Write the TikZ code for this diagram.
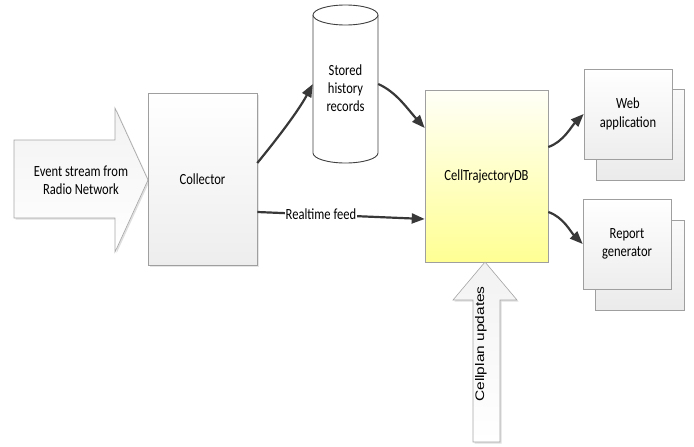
\documentclass[tikz,border=0pt]{standalone}
\usepackage{fontspec}
\setmainfont{Carlito}[FakeStretch=0.81]
\newfontfamily\arialish{Liberation Sans}
\usetikzlibrary{arrows.meta,shadows}

\begin{document}
\begin{tikzpicture}[x=1pt,y=-1pt,
  font=\fontsize{15.5}{18.3}\selectfont,
  box/.style={draw=gray!75, line width=0.6pt, rectangle, align=center, inner sep=0pt},
  graybox/.style={box, top color=white, bottom color=gray!14},
  backbox/.style={box, top color=gray!4, bottom color=gray!16},
  fatarrow/.style={draw=gray!70, line width=0.6pt, top color=gray!10, bottom color=white,
    drop shadow={shadow xshift=1.5pt, shadow yshift=-1.5pt, opacity=0.25}},
  flow/.style={draw=black!78, line width=2.2pt, -{Triangle[length=13pt,width=10pt]}},
  lbl/.style={align=center, inner sep=0pt}
]
\useasboundingbox (0,0) rectangle (694,447);

% incoming event stream arrow
\path[fatarrow] (14,140) -- (115,140) -- (115,108) -- (148,180) -- (115,252)
  -- (115,218) -- (14,218) -- cycle;
\node[lbl] (evt) at (81,180) {Event stream from\\Radio Network};

% collector
\node[graybox, minimum width=109pt, minimum height=172pt,
  drop shadow={shadow xshift=1.5pt, shadow yshift=-1.5pt, opacity=0.2}] (coll) at (202.5,179) {Collector};

% history store (cylinder)
\node[minimum width=65pt, minimum height=158pt, inner sep=0pt] (cyl) at (345.5,84) {};
\draw[draw=black!75, line width=0.9pt, fill=white]
  (313,15) -- (313,153) arc[start angle=180, end angle=0, x radius=32.5, y radius=10] -- (378,15);
\draw[draw=black!75, line width=0.9pt, fill=white] (345.5,15) ellipse [x radius=32.5, y radius=10];
\node[lbl] (cyltext) at (345.5,88) {Stored\\history\\records};

% database
\node[box, top color=yellow!3, bottom color=yellow!42, minimum width=123pt, minimum height=172pt]
  (ctdb) at (486.5,176) {CellTrajectoryDB};

% consumers (stacked boxes)
\node[backbox, minimum width=88pt, minimum height=91pt] (webback) at (640,134.5) {};
\node[graybox, minimum width=88pt, minimum height=90pt] (web) at (628,114) {Web\\application};
\node[backbox, minimum width=89pt, minimum height=90pt] (repback) at (639.5,265) {};
\node[graybox, minimum width=88pt, minimum height=90pt] (rep) at (627,244) {Report\\generator};

% cellplan update arrow
\path[fatarrow] (485,262) -- (517,300) -- (500,300) -- (500,442) -- (473,442) -- (473,300)
  -- (453,300) -- cycle;
\node[lbl, rotate=90] (cpu) at (481,344) {\arialish\scalebox{1}[0.8]{Cellplan updates}};

% data flows
\draw[flow] ([yshift=16pt]coll.east) .. controls +(18,-22) and +(-15,28) .. (cyl.west);
\draw[flow] (cyl.east) .. controls +(18,8) and +(-18,-20) .. ([yshift=48pt]ctdb.west);
\draw[flow] ([yshift=-33pt]coll.east) -- node[pos=0.38, fill=white, inner sep=1pt] (rt) {Realtime feed}
  ([yshift=-43pt]ctdb.west);
\draw[flow] ([yshift=29pt]ctdb.east) .. controls +(15,-5) and +(-12,12) .. (web.west);
\draw[flow] ([yshift=-36pt]ctdb.east) .. controls +(15,5) and +(-12,-12) .. (rep.west);
\end{tikzpicture}
\end{document}
